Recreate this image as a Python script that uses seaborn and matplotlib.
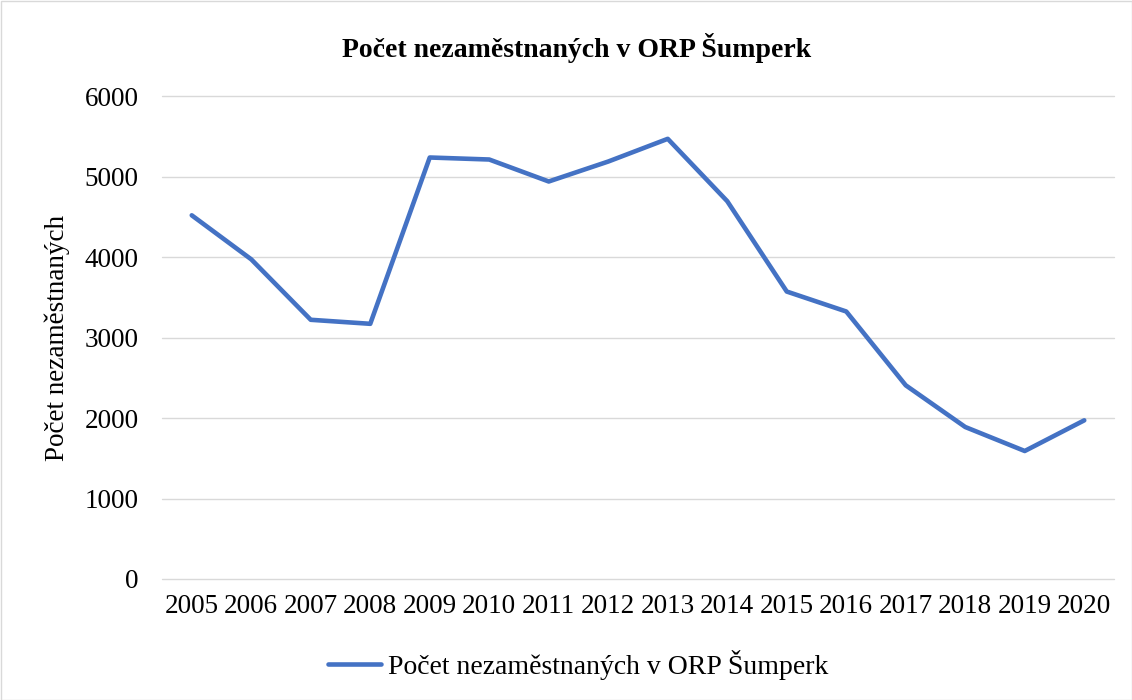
import pandas as pd
import matplotlib.pyplot as plt
import matplotlib.patches as mpatches
import seaborn as sns

years = ['2005', '2006', '2007', '2008', '2009', '2010', '2011', '2012',
         '2013', '2014', '2015', '2016', '2017', '2018', '2019', '2020']
unemployed = [4518, 3971, 3220, 3170, 5236, 5211, 4938, 5186,
              5468, 4693, 3571, 3323, 2406, 1888, 1590, 1971]
series_name = 'Počet nezaměstnaných v ORP Šumperk'
y_ticks = [0, 1000, 2000, 3000, 4000, 5000, 6000]

sns.set_theme(style='white')
plt.rcParams['font.family'] = ['Liberation Serif', 'DejaVu Serif']
plt.rcParams['text.color'] = 'black'

df = pd.DataFrame({'Rok': years, 'Počet': unemployed})

fig = plt.figure(figsize=(11.32, 7), dpi=100)
ax = fig.add_axes([162 / 1132, 1 - 579 / 700, (1114 - 162) / 1132, (579 - 96) / 700])

sns.lineplot(data=df, x='Rok', y='Počet', ax=ax, color='#4472C4',
             linewidth=3.3, label=series_name, sort=False)

ax.set_xlim(-0.5, len(years) - 0.5)
ax.set_ylim(0, 6000)
ax.set_yticks(y_ticks)
ax.set_yticklabels([str(v) for v in y_ticks])
ax.grid(axis='y', color='#D9D9D9', linewidth=1.0)
for gl in ax.get_ygridlines():
    gl.set_clip_on(False)
ax.set_axisbelow(True)
for s in ax.spines.values():
    s.set_visible(False)
ax.tick_params(axis='both', length=0, labelsize=19.5, colors='black')
ax.tick_params(axis='y', pad=17)
ax.tick_params(axis='x', pad=11)
ax.set_xlabel('')
ax.set_ylabel('Počet nezaměstnaných', fontsize=19.5, color='black', labelpad=10)

ax.get_legend().remove()
handles, labels = ax.get_legend_handles_labels()
fig.legend(handles, labels, loc='center', bbox_to_anchor=(578 / 1132, 1 - 665 / 700),
           frameon=False, fontsize=20, handlelength=1.9, handletextpad=0.25,
           labelcolor='black')

fig.text(577 / 1132, 1 - 48 / 700, series_name, ha='center', va='center',
         fontsize=20, fontweight='bold', color='black')

fig.patches.append(mpatches.Rectangle((0.5 / 1132, 0.5 / 700), 1 - 1 / 1132, 1 - 1 / 700,
                                      transform=fig.transFigure, fill=False,
                                      edgecolor='#D9D9D9', linewidth=1))

fig.savefig('out.png', dpi=100)
